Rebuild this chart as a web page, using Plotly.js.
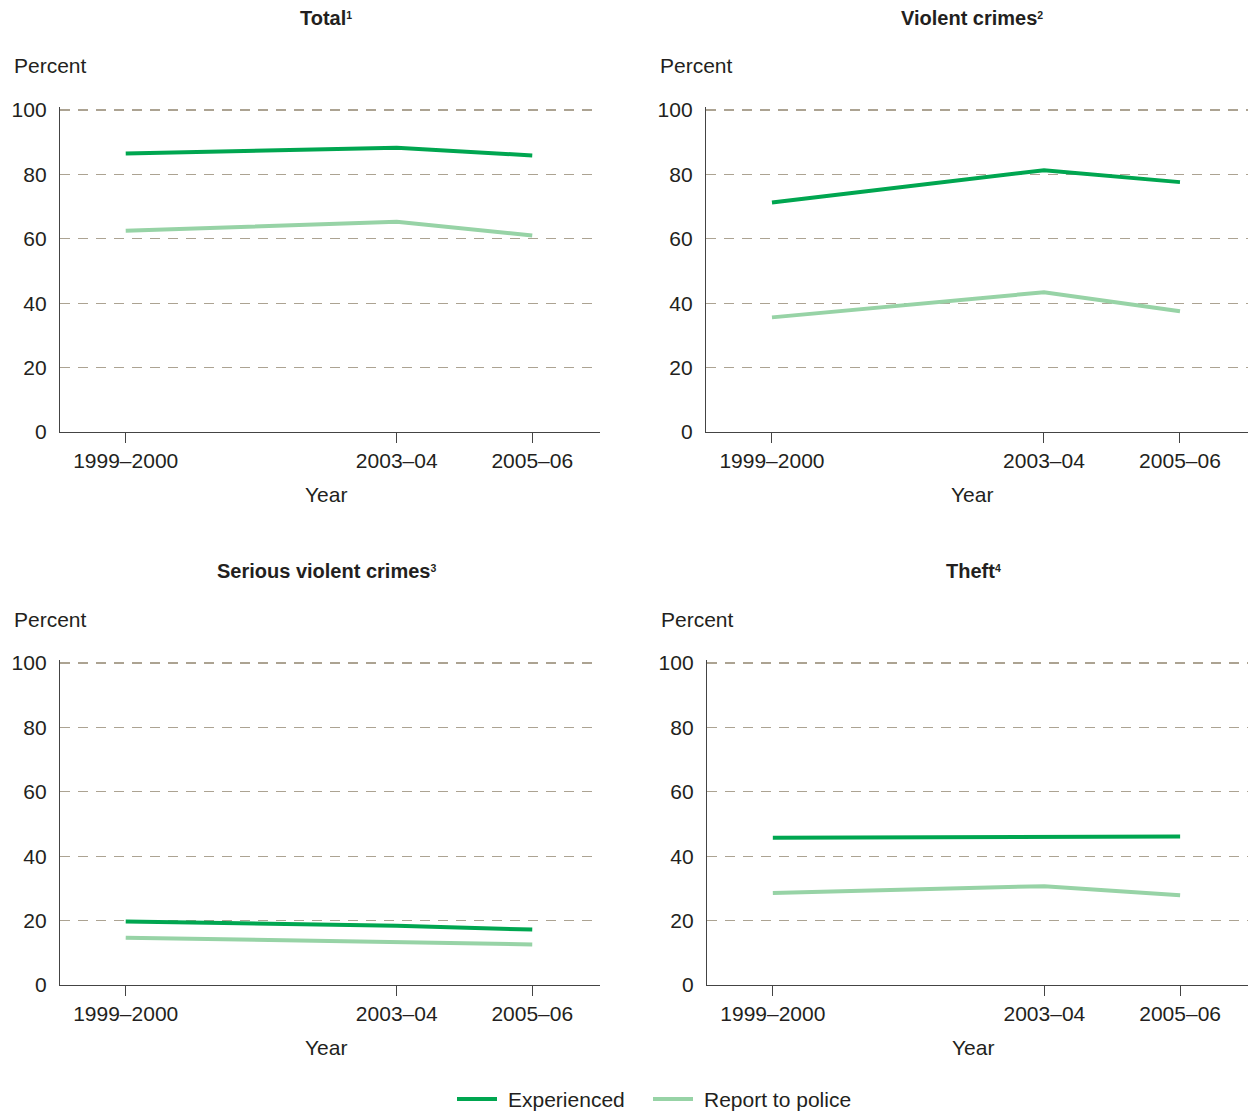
<!DOCTYPE html>
<html>
<head>
<meta charset="utf-8">
<script src="https://cdn.plot.ly/plotly-3.0.1.min.js"></script>
<style>html,body{margin:0;padding:0;background:#fff;}#chart{width:1248px;height:1112px;}</style>
</head>
<body>
<div id="chart"></div>
<script>
// Data
const years = [1999, 2003, 2005];
const yearLabels = ["1999–2000", "2003–04", "2005–06"];
const panelTitles = ["Total", "Violent crimes", "Serious violent crimes", "Theft"];
const panelNotes = ["1", "2", "3", "4"];
const seriesNames = ["Experienced", "Report to police"];
const totalExperienced = [86.5, 88.3, 85.9];
const totalReported = [62.5, 65.3, 61.0];
const violentExperienced = [71.3, 81.3, 77.6];
const violentReported = [35.6, 43.4, 37.5];
const seriousExperienced = [19.7, 18.4, 17.2];
const seriousReported = [14.7, 13.3, 12.6];
const theftExperienced = [45.7, 46.0, 46.1];
const theftReported = [28.6, 30.7, 27.9];

const colExp = "#00a650";
const colRep = "#97d3a6";
const FONT = "Liberation Sans, Arial, sans-serif";
const TXT = "#231f20";
const W = 1248, H = 1112;
const YMAX = 101; // a little headroom so the 100 gridline is drawn
const PXU = 3.22;

const panels = [
  {exp: totalExperienced, rep: totalReported, x0: 60, x1: 600, yTop: 110, yBot: 432},
  {exp: violentExperienced, rep: violentReported, x0: 706, x1: 1248, yTop: 110, yBot: 432},
  {exp: seriousExperienced, rep: seriousReported, x0: 60, x1: 600, yTop: 663, yBot: 985},
  {exp: theftExperienced, rep: theftReported, x0: 707, x1: 1248, yTop: 663, yBot: 985}
];

const traces = [];
const layout = {
  width: W, height: H,
  margin: {l: 0, r: 0, t: 0, b: 0, autoexpand: false},
  paper_bgcolor: "#fff", plot_bgcolor: "#fff",
  font: {family: FONT, size: 21, color: TXT},
  showlegend: false,
  annotations: [],
  shapes: []
};

panels.forEach((p, i) => {
  const n = i === 0 ? "" : String(i + 1);
  const xa = "x" + n, ya = "y" + n;
  const top = p.yTop - (YMAX - 100) * PXU;
  traces.push({x: years, y: p.rep, xaxis: xa, yaxis: ya, type: "scatter", mode: "lines",
    name: seriesNames[1], line: {color: colRep, width: 4}, hoverinfo: "skip"});
  traces.push({x: years, y: p.exp, xaxis: xa, yaxis: ya, type: "scatter", mode: "lines",
    name: seriesNames[0], line: {color: colExp, width: 4}, hoverinfo: "skip"});
  layout["xaxis" + n] = {
    domain: [p.x0 / W, p.x1 / W], anchor: ya, range: [1998.03, 2006.0],
    tickvals: years, ticktext: yearLabels, ticks: "outside", ticklen: 10, tickcolor: "#444",
    ticklabelstandoff: 0,
    tickfont: {family: FONT, size: 21, color: TXT},
    showline: true, linecolor: "#444", linewidth: 1.2, showgrid: false, zeroline: false, fixedrange: true
  };
  layout["yaxis" + n] = {
    domain: [1 - p.yBot / H, 1 - top / H], anchor: xa, range: [0, YMAX],
    tickvals: [0, 20, 40, 60, 80, 100], ticks: "", ticklabelstandoff: 8,
    tickfont: {family: FONT, size: 21, color: TXT},
    showline: true, linecolor: "#444", linewidth: 1.2, showgrid: true, gridcolor: "#aca392",
    gridwidth: 1.2, griddash: "10px,8px", zeroline: false, fixedrange: true
  };
  layout.annotations.push({text: "<b>" + panelTitles[i] + "<span style='font-size:15px'><sup>" + panelNotes[i] + "</sup></span></b>",
    xref: "paper", yref: "paper",
    x: (p.x0 + 266) / W, y: 1 - (p.yTop - 92) / H, xanchor: "center", yanchor: "middle", showarrow: false,
    font: {family: FONT, size: 20, color: TXT}});
  layout.annotations.push({text: "Percent", xref: "paper", yref: "paper",
    x: (p.x0 - 48) / W, y: 1 - (p.yTop - 44) / H, xanchor: "left", yanchor: "middle", showarrow: false,
    font: {family: FONT, size: 21, color: TXT}});
  layout.annotations.push({text: "Year", xref: "paper", yref: "paper",
    x: (p.x0 + 266) / W, y: 1 - (p.yBot + 62) / H, xanchor: "center", yanchor: "middle", showarrow: false,
    font: {family: FONT, size: 21, color: TXT}});
});

// Legend (drawn as key swatches + labels)
const legendItems = [
  {name: seriesNames[0], color: colExp, x: 457},
  {name: seriesNames[1], color: colRep, x: 653}
];
const legY = 1 - 1099 / H;
legendItems.forEach(it => {
  layout.shapes.push({type: "line", xref: "paper", yref: "paper",
    x0: it.x / W, x1: (it.x + 40) / W, y0: legY, y1: legY, line: {color: it.color, width: 4}});
  layout.annotations.push({text: it.name, xref: "paper", yref: "paper",
    x: (it.x + 49) / W, y: legY, xanchor: "left", yanchor: "middle", showarrow: false,
    font: {family: FONT, size: 21, color: TXT}});
});

Plotly.newPlot("chart", traces, layout, {staticPlot: true, displayModeBar: false});
</script>
</body>
</html>
